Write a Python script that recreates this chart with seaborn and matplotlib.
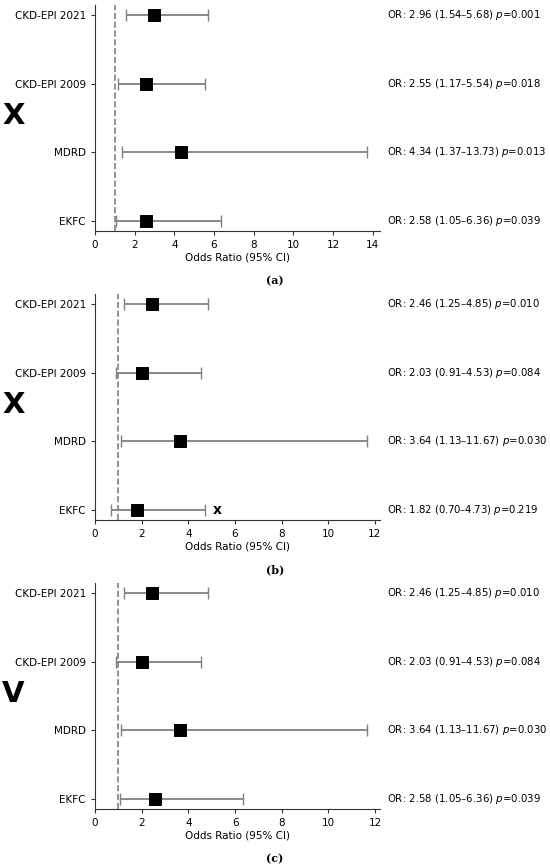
import numpy as np
import pandas as pd
import matplotlib
matplotlib.use("Agg")
import matplotlib.pyplot as plt
import seaborn as sns

# dados das tres analises
metodos = ['CKD-EPI 2021', 'CKD-EPI 2009', 'MDRD', 'EKFC']

or_a = [2.96, 2.55, 4.34, 2.58]
lo_a = [1.54, 1.17, 1.37, 1.05]
hi_a = [5.68, 5.54, 13.73, 6.36]
p_a = ['0.001', '0.018', '0.013', '0.039']

or_b = [2.46, 2.03, 3.64, 1.82]
lo_b = [1.25, 0.91, 1.13, 0.70]
hi_b = [4.85, 4.53, 11.67, 4.73]
p_b = ['0.010', '0.084', '0.030', '0.219']

or_c = [2.46, 2.03, 3.64, 2.58]
lo_c = [1.25, 0.91, 1.13, 1.05]
hi_c = [4.85, 4.53, 11.67, 6.36]
p_c = ['0.010', '0.084', '0.030', '0.039']

letras = ['X', 'X', 'V']
rotulos = ['(a)', '(b)', '(c)']

sns.set_style('ticks')
plt.rcParams['font.family'] = ['DejaVu Sans']
plt.rcParams['axes.edgecolor'] = '#333333'
plt.rcParams['text.color'] = 'black'
plt.rcParams['axes.labelcolor'] = 'black'
plt.rcParams['xtick.color'] = 'black'
plt.rcParams['ytick.color'] = 'black'

fig = plt.figure(figsize=(5.5, 8.67), dpi=100)
W, H = 550, 867
tops = [5, 294, 583]

paineis = [(or_a, lo_a, hi_a, p_a), (or_b, lo_b, hi_b, p_b), (or_c, lo_c, hi_c, p_c)]

for i, (odds, lo, hi, pv) in enumerate(paineis):
    top = tops[i]
    ax = fig.add_axes([95 / W, 1 - (top + 226) / H, 285 / W, 226 / H])
    df = pd.DataFrame({'metodo': metodos, 'OR': odds, 'lo': lo, 'hi': hi, 'p': pv})
    df['y'] = np.arange(len(df))[::-1]

    ax.errorbar(df['OR'], df['y'], xerr=[df['OR'] - df['lo'], df['hi'] - df['OR']],
                fmt='none', ecolor='#808080', elinewidth=1.3, capsize=4, capthick=1.0, zorder=1)
    sns.scatterplot(data=df, x='OR', y='y', marker='s', s=75, color='black',
                    edgecolor='black', ax=ax, zorder=3, legend=False)
    ax.axvline(1, color='#808080', linestyle='--', linewidth=1.2, zorder=0)

    xmax = df['hi'].max() + 0.05 * (df['hi'].max() - df['lo'].min())
    ax.set_xlim(0, xmax)
    ax.set_ylim(-0.15, 3.15)
    ax.set_yticks(df['y'])
    ax.set_yticklabels(df['metodo'])
    ax.tick_params(labelsize=7.5, length=3, color='#333333')
    ax.set_xlabel('Odds Ratio (95% CI)', fontsize=7.5, labelpad=2)
    ax.set_ylabel('')
    sns.despine(ax=ax)

    trans = matplotlib.transforms.blended_transform_factory(fig.transFigure, ax.transData)
    for _, r in df.iterrows():
        txt = f"OR: {r['OR']:.2f} ({r['lo']:.2f}–{r['hi']:.2f}) $p$={r['p']}"
        ax.text(387 / W, r['y'], txt, transform=trans, ha='left', va='center', fontsize=7.3)

    if i == 1:
        ax.text(df['hi'].iloc[3] + 0.5, df['y'].iloc[3], 'x', fontsize=10, fontweight='bold',
                ha='center', va='center')

    fig.text(13.5 / W, 1 - (top + 111) / H, letras[i], fontsize=21, fontweight='bold',
             ha='center', va='center')
    fig.text(0.5, 1 - (top + 276) / H, rotulos[i], fontsize=8, fontweight='bold',
             family='DejaVu Serif', ha='center', va='center')

fig.savefig('out.png', dpi=100)
